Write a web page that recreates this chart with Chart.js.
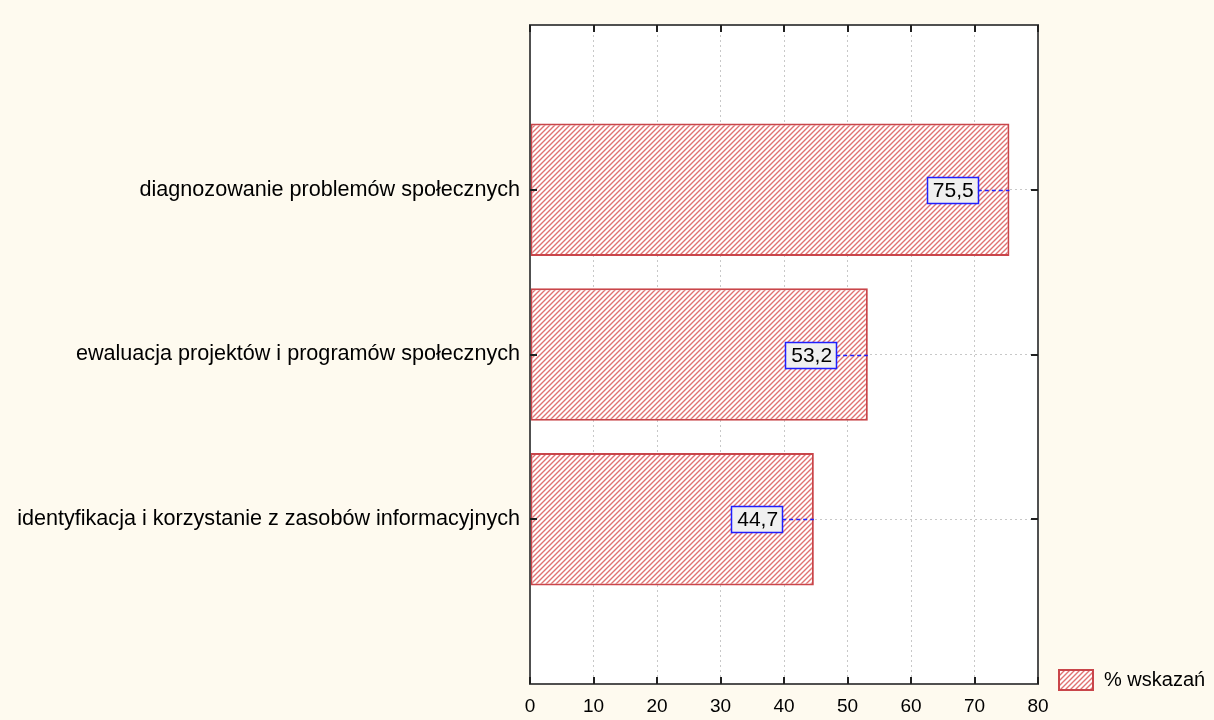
<!DOCTYPE html>
<html>
<head>
<meta charset="utf-8">
<script src="https://cdn.jsdelivr.net/npm/chart.js@4.4.1/dist/chart.umd.min.js"></script>
<style>
    html, body { margin: 0; padding: 0; background: #fefaef; }
    #wrap { width: 1214px; height: 720px; }
</style>
</head>
<body>
<div id="wrap"><canvas id="barChart" width="1214" height="720"></canvas></div>
<script>
// categories (empty first/last slot keeps the gap above and below the bars)
var categories = ["", "diagnozowanie problemów społecznych", "ewaluacja projektów i programów społecznych", "identyfikacja i korzystanie z zasobów informacyjnych", ""];
var values = [null, 75.5, 53.2, 44.7, null];
var valueLabels = ["", "75,5", "53,2", "44,7", ""];
var seriesName = "% wskazań";
var xTicks = [0, 10, 20, 30, 40, 50, 60, 70, 80];

var FONT = "'Liberation Sans', Arial, sans-serif";
var HATCH = "#e07272";
var EDGE = "#c9454a";

function makeHatch() {
    var c = document.createElement("canvas");
    c.width = 5; c.height = 5;
    var g = c.getContext("2d");
    g.fillStyle = "#ffffff";
    g.fillRect(0, 0, 5, 5);
    g.strokeStyle = HATCH;
    g.lineWidth = 1.4;
    g.beginPath();
    g.moveTo(0, 5); g.lineTo(5, 0);
    g.moveTo(-2.5, 2.5); g.lineTo(2.5, -2.5);
    g.moveTo(2.5, 7.5); g.lineTo(7.5, 2.5);
    g.stroke();
    return g.createPattern(c, "repeat");
}
var hatch = makeHatch();

// frame, inner ticks, value boxes and legend
var decorations = {
    id: "decorations",
    beforeDraw(chart) {
        var ctx = chart.ctx, a = chart.chartArea;
        ctx.save();
        ctx.fillStyle = "#fefaef";
        ctx.fillRect(0, 0, chart.width, chart.height);
        ctx.fillStyle = "#ffffff";
        ctx.fillRect(a.left, a.top, a.right - a.left, a.bottom - a.top);
        ctx.restore();
    },
    afterDatasetsDraw(chart) {
        var ctx = chart.ctx, a = chart.chartArea;
        var x = chart.scales.x, y = chart.scales.y;
        ctx.save();
        // leader lines and value boxes
        ctx.font = "21px " + FONT;
        ctx.textBaseline = "middle";
        ctx.textAlign = "center";
        values.forEach(function (v, i) {
            if (v == null) return;
            var px = x.getPixelForValue(v);
            var py = Math.round(y.getPixelForValue(i));
            var cx = x.getPixelForValue(v - 9);
            var w = Math.round(ctx.measureText(valueLabels[i]).width + 10);
            var h = 26;
            ctx.strokeStyle = "#1f1fff";
            ctx.lineWidth = 1.5;
            ctx.setLineDash([4, 3]);
            ctx.beginPath();
            ctx.moveTo(cx + w / 2, py + 0.5);
            ctx.lineTo(px, py + 0.5);
            ctx.stroke();
            ctx.setLineDash([]);
            ctx.fillStyle = "#f0f0f0";
            ctx.fillRect(cx - w / 2, py - h / 2, w, h);
            ctx.lineWidth = 1.5;
            ctx.strokeRect(Math.round(cx - w / 2) + 0.5, py - h / 2 + 0.5, w, h);
            ctx.fillStyle = "#000000";
            ctx.fillText(valueLabels[i], cx + 1, py + 1);
        });
        // frame
        ctx.strokeStyle = "#505050";
        ctx.lineWidth = 2;
        ctx.strokeRect(a.left, a.top, a.right - a.left, a.bottom - a.top);
        // inner ticks
        ctx.strokeStyle = "#202020";
        ctx.beginPath();
        xTicks.forEach(function (t) {
            var px = Math.round(x.getPixelForValue(t));
            ctx.moveTo(px, a.bottom); ctx.lineTo(px, a.bottom - 7);
            ctx.moveTo(px, a.top); ctx.lineTo(px, a.top + 7);
        });
        values.forEach(function (v, i) {
            if (v == null) return;
            var py = Math.round(y.getPixelForValue(i));
            ctx.moveTo(a.left, py); ctx.lineTo(a.left + 7, py);
            ctx.moveTo(a.right, py); ctx.lineTo(a.right - 7, py);
        });
        ctx.stroke();
        // legend
        var lx = a.right + 21, ly = a.bottom - 14;
        ctx.fillStyle = hatch;
        ctx.fillRect(lx, ly, 34, 20);
        ctx.strokeStyle = EDGE;
        ctx.lineWidth = 2;
        ctx.strokeRect(lx, ly, 34, 20);
        ctx.fillStyle = "#000000";
        ctx.font = "20px " + FONT;
        ctx.textAlign = "left";
        ctx.fillText(seriesName, lx + 45, ly + 10);
        ctx.restore();
    }
};

new Chart(document.getElementById("barChart"), {
    type: "bar",
    data: {
        labels: categories,
        datasets: [{
            label: seriesName,
            data: values,
            backgroundColor: hatch,
            borderColor: EDGE,
            borderWidth: 2,
            borderSkipped: false,
            categoryPercentage: 1,
            barPercentage: 0.805
        }]
    },
    options: {
        indexAxis: "y",
        responsive: false,
        animation: false,
        layout: { padding: { top: 25, right: 176, left: 0, bottom: 0 } },
        plugins: { legend: { display: false }, tooltip: { enabled: false } },
        scales: {
            x: {
                min: 0, max: 80,
                afterBuildTicks: function (s) { s.ticks = xTicks.map(function (v) { return { value: v }; }); },
                grid: { color: "#c8c8c8", lineWidth: 1, tickLength: 0, drawTicks: false },
                border: { display: false, dash: [2, 3] },
                ticks: { color: "#000000", font: { family: FONT, size: 19 }, padding: 11 },
                afterFit: function (s) { s.height = 36; }
            },
            y: {
                offset: false,
                grid: { offset: false, color: function (c) { return values[c.index] == null ? "rgba(0,0,0,0)" : "#c8c8c8"; }, lineWidth: 1, tickLength: 0, drawTicks: false },
                border: { display: false, dash: [2, 3] },
                ticks: { color: "#000000", font: { family: FONT, size: 21.6 }, padding: 10, autoSkip: false },
                afterFit: function (s) { s.width = 530; }
            }
        }
    },
    plugins: [decorations]
});
</script>
</body>
</html>
